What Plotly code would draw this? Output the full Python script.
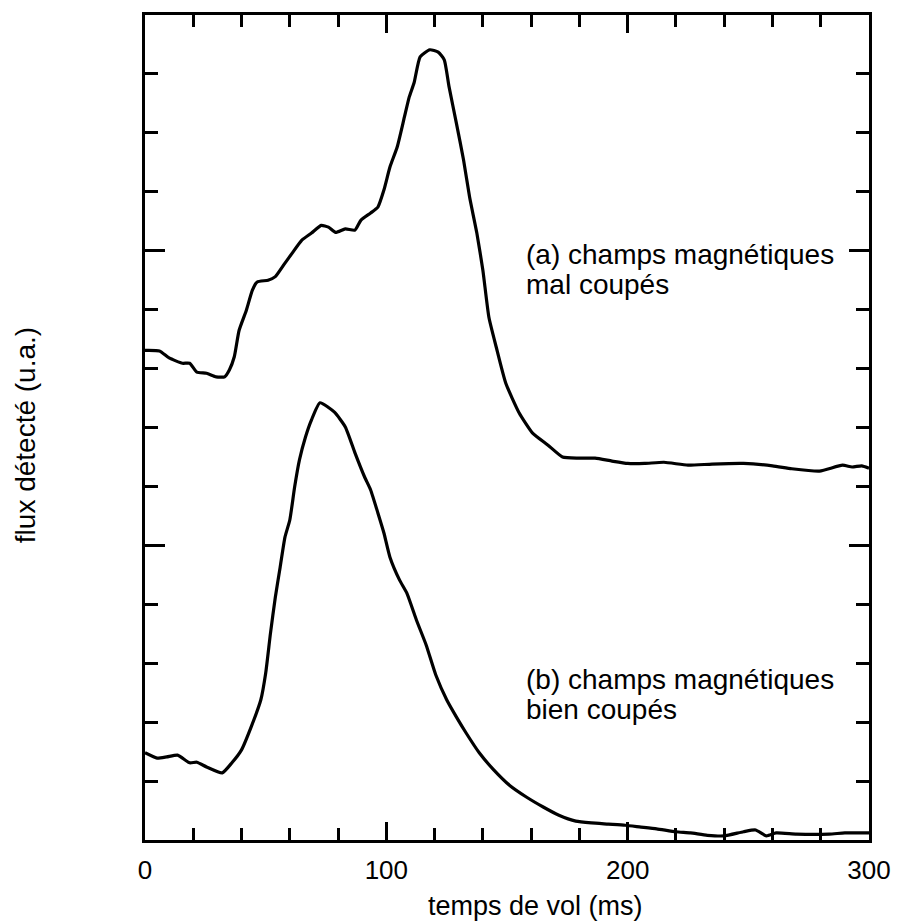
import plotly.graph_objects as go

# Curve (a): champs magnétiques mal coupés
t_a = [0, 6, 10, 15.5, 18.5, 21.5, 25.5, 29.5, 33, 35, 37, 39, 42, 44.5, 46.5, 51, 54, 58, 61, 65,
       69, 73, 76, 79, 83, 87, 89.5, 93.5, 96.5, 99, 101.5, 104.5, 107.5, 109.5, 111.5, 114, 118,
       121.5, 124, 126, 129, 132, 134.5, 137.5, 140, 142.5, 145.5, 149.5, 155, 160.5, 167, 173,
       179.5, 186.5, 193.5, 200, 207, 215, 225, 235, 248, 260, 268, 279.5, 289, 293, 297, 300]
flux_a = [8.31, 8.30, 8.18, 8.09, 8.09, 7.94, 7.92, 7.86, 7.86, 7.98, 8.20, 8.65, 8.99, 9.33, 9.47,
          9.50, 9.56, 9.79, 9.96, 10.18, 10.30, 10.43, 10.40, 10.31, 10.37, 10.35, 10.52, 10.64,
          10.74, 11.03, 11.42, 11.76, 12.27, 12.61, 12.85, 13.29, 13.41, 13.37, 13.24, 12.78,
          12.17, 11.54, 10.91, 10.30, 9.67, 8.87, 8.37, 7.75, 7.25, 6.91, 6.70, 6.50, 6.48, 6.48,
          6.43, 6.39, 6.39, 6.41, 6.36, 6.38, 6.39, 6.35, 6.30, 6.26, 6.36, 6.33, 6.35, 6.31]

# Curve (b): champs magnétiques bien coupés
t_b = [0, 5, 9, 13.5, 18.5, 21.5, 25.5, 32, 36, 40, 44, 48, 50, 52, 54, 56, 58, 60, 62, 64, 66.5,
       69, 72.5, 78.5, 83, 87, 91, 93.5, 96.5, 99, 101.5, 105.5, 108.5, 112.5, 116.5, 120.5, 125,
       129, 133, 138.5, 144.5, 151, 158, 165, 171.5, 178.5, 185, 192, 199, 205.5, 212, 220, 226,
       233, 240, 248, 253, 257.5, 261.5, 270, 283.5, 290, 300]
flux_b = [1.48, 1.39, 1.41, 1.44, 1.31, 1.32, 1.24, 1.14, 1.31, 1.53, 1.92, 2.38, 2.83, 3.51, 4.12,
          4.63, 5.14, 5.43, 5.99, 6.45, 6.84, 7.13, 7.42, 7.26, 7.01, 6.57, 6.16, 5.94, 5.55, 5.21,
          4.80, 4.41, 4.19, 3.73, 3.31, 2.80, 2.38, 2.09, 1.82, 1.48, 1.19, 0.93, 0.73, 0.56, 0.42,
          0.32, 0.29, 0.27, 0.25, 0.22, 0.19, 0.14, 0.12, 0.08, 0.07, 0.14, 0.17, 0.07, 0.12, 0.10,
          0.10, 0.12, 0.12]

x_tickvals = [0, 100, 200, 300]
x_ticktext = ["0", "100", "200", "300"]

label_a = ["(a) champs magnétiques", "mal coupés"]
label_b = ["(b) champs magnétiques", "bien coupés"]

FONT = "Liberation Sans, Arial, Helvetica, sans-serif"

fig = go.Figure()
for tx, fy in [(t_a, flux_a), (t_b, flux_b)]:
    fig.add_trace(go.Scatter(x=tx, y=fy, mode="lines",
                             line=dict(color="black", width=3.2, shape="spline", smoothing=0.5),
                             showlegend=False, hoverinfo="skip"))

annos = []
for i, txt in enumerate(label_a):
    annos.append(dict(x=157, y=[9.93, 9.42][i], text=txt, xref="x", yref="y",
                      xanchor="left", yanchor="middle", showarrow=False,
                      font=dict(size=28, color="black", family=FONT)))
for i, txt in enumerate(label_b):
    annos.append(dict(x=157, y=[2.73, 2.22][i], text=txt, xref="x", yref="y",
                      xanchor="left", yanchor="middle", showarrow=False,
                      font=dict(size=28, color="black", family=FONT)))
annos.append(dict(x=-0.164, y=0.491, xref="paper", yref="paper", text="flux détecté (u.a.)",
                  textangle=-90, showarrow=False, xanchor="center", yanchor="middle",
                  font=dict(size=28, color="black", family=FONT)))
annos.append(dict(x=0.54, y=-0.08, xref="paper", yref="paper", text="temps de vol (ms)",
                  showarrow=False, xanchor="center", yanchor="middle",
                  font=dict(size=27, color="black", family=FONT)))

fig.update_layout(
    width=903, height=921,
    margin=dict(l=145, r=26, t=15, b=81),
    paper_bgcolor="white", plot_bgcolor="white",
    font=dict(family=FONT, color="black", size=26),
    annotations=annos,
    xaxis=dict(range=[0, 300], tickvals=x_tickvals, ticktext=x_ticktext,
               ticks="inside", ticklen=18, tickwidth=3, tickcolor="black",
               showline=True, linewidth=3, linecolor="black", mirror="allticks",
               showgrid=False, zeroline=False, ticklabelstandoff=5,
               ticklabeloverflow="allow",
               minor=dict(dtick=20, ticks="inside", ticklen=12, tickwidth=3,
                          tickcolor="black", showgrid=False),
               tickfont=dict(size=26, family=FONT, color="black")),
    yaxis=dict(range=[0, 14], dtick=5, tick0=0, showticklabels=False,
               ticks="inside", ticklen=20, tickwidth=3, tickcolor="black",
               showline=True, linewidth=3, linecolor="black", mirror="allticks",
               showgrid=False, zeroline=False,
               minor=dict(dtick=1, ticks="inside", ticklen=13, tickwidth=3,
                          tickcolor="black", showgrid=False)),
)

fig.write_html("out.html", config={"displayModeBar": False},
               post_script="document.body.style.margin='0';document.body.style.padding='0';"
                           "document.documentElement.style.overflow='hidden';")
